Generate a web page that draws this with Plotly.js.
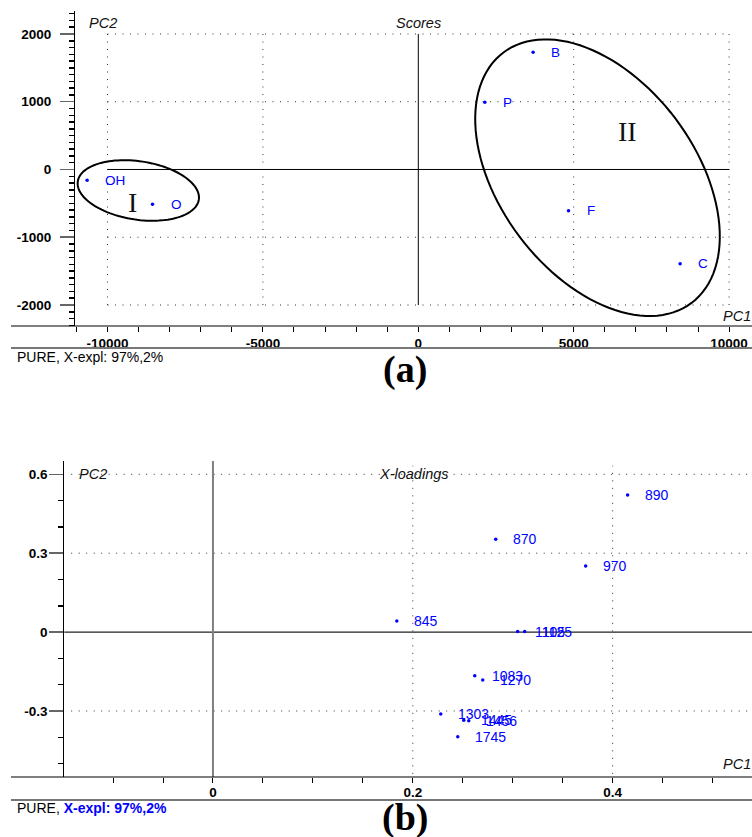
<!DOCTYPE html>
<html><head><meta charset="utf-8">
<script src="https://cdn.plot.ly/plotly-3.0.1.min.js"></script>
<style>html,body{margin:0;padding:0;background:#fff}</style>
</head><body><div id="chart" style="width:752px;height:837px"></div>
<script>
// ---- (a) Scores ----
const scoreLabels = ['OH', 'O', 'B', 'P', 'F', 'C'];
const scorePC1 = [-10656, -8552, 3694, 2140, 4833, 8424];
const scorePC2 = [-159, -514, 1730, 992, -608, -1390];
const scoreXTicks = [-10000, -5000, 0, 5000, 10000];
const scoreXTickText = ['-10000', '-5000', '0', '5000', '10000'];
const scoreYTicks = [-2000, -1000, 0, 1000, 2000];
const scoreYTickText = ['-2000', '-1000', '0', '1000', '2000'];
const groupNames = ['I', 'II'];
const groupCenterPC1 = [-9009, 5766];
const groupCenterPC2 = [-310, -121];
const groupLabelPC1 = [-9186, 6731];
const groupLabelPC2 = [-480, 558];

// ---- (b) X-loadings ----
const loadLabels = ['890', '870', '970', '845', '1105', '1125', '1083', '1270', '1303', '1445', '1456', '1745'];
const loadPC1 = [0.415, 0.283, 0.373, 0.184, 0.305, 0.312, 0.262, 0.270, 0.228, 0.251, 0.256, 0.245];
const loadPC2 = [0.521, 0.353, 0.251, 0.042, 0.002, 0.002, -0.166, -0.182, -0.311, -0.335, -0.337, -0.398];
const loadXTicks = [0, 0.2, 0.4];
const loadXTickText = ['0', '0.2', '0.4'];
const loadYTicks = [-0.3, 0, 0.3, 0.6];
const loadYTickText = ['-0.3', '0', '0.3', '0.6'];

// ---- layout geometry ----
const W = 752, H = 837;
const px = v => v / W;            // pixel -> paper x
const py = v => 1 - v / H;        // pixel -> paper y
const FONT = 'Liberation Sans, Arial, sans-serif';
const BLUE = '#0000ff';

const topX = {l: 75, r: 752}, topY = {t: 11, b: 326};
const botX = {l: 64.3, r: 752}, botY = {t: 461, b: 777};
const topXRange = [-11046, 10737], topYRange = [-2310, 2339];
const botXRange = [-0.1488, 0.5395], botYRange = [-0.551, 0.6506];

// ellipse shape parameters (center in data, axes in screen px, rotation deg)
const ellipseA = [61.2, 156.6], ellipseB = [29.2, 97.8], ellipseRot = [8.6, 53.1];

function ellipsePath(cx, cy, a, b, rotDeg) {
  const sx = (topX.r - topX.l) / (topXRange[1] - topXRange[0]);
  const sy = (topY.b - topY.t) / (topYRange[1] - topYRange[0]);
  const th = rotDeg * Math.PI / 180;
  let d = '';
  for (let i = 0; i <= 120; i++) {
    const t = 2 * Math.PI * i / 120;
    const dx = a * Math.cos(t) * Math.cos(th) - b * Math.sin(t) * Math.sin(th);
    const dy = a * Math.cos(t) * Math.sin(th) + b * Math.sin(t) * Math.cos(th);
    const x = cx + dx / sx, y = cy - dy / sy;
    d += (i === 0 ? 'M' : 'L') + x.toFixed(2) + ',' + y.toFixed(3);
  }
  return d + 'Z';
}

const traces = [
  {x: scorePC1, y: scorePC2, xaxis: 'x', yaxis: 'y', mode: 'markers', type: 'scatter',
   marker: {color: BLUE, size: 3.5}, hoverinfo: 'skip', cliponaxis: false},
  {x: loadPC1, y: loadPC2, xaxis: 'x2', yaxis: 'y2', mode: 'markers', type: 'scatter',
   marker: {color: BLUE, size: 3.5}, hoverinfo: 'skip', cliponaxis: false}
];

const dotted = {color: '#333', width: 1, dash: '1px,6.5px'};
const shapes = [];
// top grid (confined to +-10000, +-2000)
[2000, 1000, -1000, -2000].forEach(v => shapes.push({type: 'line', xref: 'x', yref: 'y', x0: -10000, x1: 10000, y0: v, y1: v, line: dotted, layer: 'below'}));
[-10000, -5000, 5000, 10000].forEach(v => shapes.push({type: 'line', xref: 'x', yref: 'y', x0: v, x1: v, y0: -2000, y1: 2000, line: dotted, layer: 'below'}));
shapes.push({type: 'line', xref: 'x', yref: 'y', x0: -10000, x1: 10000, y0: 0, y1: 0, line: {color: '#000', width: 1}, layer: 'below'});
shapes.push({type: 'line', xref: 'x', yref: 'y', x0: 0, x1: 0, y0: -2000, y1: 2000, line: {color: '#000', width: 1}, layer: 'below'});
// bottom grid (full plot)
[0.6, 0.3, -0.3].forEach(v => shapes.push({type: 'line', xref: 'x2 domain', yref: 'y2', x0: 0.01, x1: 1, y0: v, y1: v, line: dotted, layer: 'below'}));
[0.2, 0.4].forEach(v => shapes.push({type: 'line', xref: 'x2', yref: 'y2 domain', x0: v, x1: v, y0: 0.01, y1: 0.985, line: dotted, layer: 'below'}));
shapes.push({type: 'line', xref: 'x2 domain', yref: 'y2', x0: 0, x1: 1, y0: 0, y1: 0, line: {color: '#222', width: 1.2}, layer: 'below'});
shapes.push({type: 'line', xref: 'x2', yref: 'y2 domain', x0: 0, x1: 0, y0: 0, y1: 1, line: {color: '#808080', width: 2}, layer: 'below'});
// extended x axis lines and separators
[[topY.b, '#000', 1.2], [botY.b, '#000', 1.2], [348, '#777', 2], [800, '#777', 2]].forEach(s =>
  shapes.push({type: 'line', xref: 'paper', yref: 'paper', x0: px(11), x1: 1, y0: py(s[0]), y1: py(s[0]), line: {color: s[1], width: s[2]}}));
// ellipses
for (let i = 0; i < groupNames.length; i++) {
  shapes.push({type: 'path', xref: 'x', yref: 'y', path: ellipsePath(groupCenterPC1[i], groupCenterPC2[i], ellipseA[i], ellipseB[i], ellipseRot[i]),
    line: {color: '#000', width: 2}});
}

const annotations = [];
scoreLabels.forEach((t, i) => annotations.push({x: scorePC1[i], y: scorePC2[i], xref: 'x', yref: 'y', text: t, showarrow: false,
  xanchor: 'left', yanchor: 'middle', xshift: 16, font: {family: FONT, size: 13.5, color: BLUE}}));
loadLabels.forEach((t, i) => annotations.push({x: loadPC1[i], y: loadPC2[i], xref: 'x2', yref: 'y2', text: t, showarrow: false,
  xanchor: 'left', yanchor: 'middle', xshift: 15, font: {family: FONT, size: 14, color: BLUE}}));
groupNames.forEach((t, i) => annotations.push({x: groupLabelPC1[i], y: groupLabelPC2[i], xref: 'x', yref: 'y', text: t, showarrow: false,
  font: {family: 'Liberation Serif, Times New Roman, serif', size: 28, color: '#111'}}));
function txt(text, x, y, opts) {
  annotations.push(Object.assign({text, x: px(x), y: py(y), xref: 'paper', yref: 'paper', showarrow: false,
    xanchor: 'left', yanchor: 'middle', font: {family: FONT, size: 14.5, color: '#111'}}, opts || {}));
}
txt('<i>PC2</i>', 87, 23);
txt('<i>Scores</i>', 394, 23);
txt('<i>PC1</i>', 721, 316);
txt('<i>PC2</i>', 77, 474);
txt('<i>X-loadings</i>', 377, 474);
txt('<i>PC1</i>', 721, 764);
txt('PURE, X-expl: 97%,2%', 15, 357, {font: {family: FONT, size: 14, color: '#000'}});
txt('PURE, <span style="color:#0000ff;font-weight:bold">X-expl: 97%,2%</span>', 15, 808, {font: {family: FONT, size: 14, color: '#000'}});
txt('<b>(a)</b>', 405, 369, {xanchor: 'center', font: {family: 'Liberation Serif, Times New Roman, serif', size: 38, color: '#000'}});
txt('<b>(b)</b>', 405, 817, {xanchor: 'center', font: {family: 'Liberation Serif, Times New Roman, serif', size: 38, color: '#000'}});

const tickFont = {family: FONT, size: 13.5, color: '#000', weight: 'bold'};
const layout = {
  width: W, height: H, margin: {l: 0, r: 0, t: 0, b: 0},
  paper_bgcolor: '#fff', plot_bgcolor: '#fff', showlegend: false,
  xaxis: {domain: [px(topX.l), 1], range: topXRange, anchor: 'y', showgrid: false, zeroline: false, showline: false,
    tickmode: 'array', tickvals: scoreXTicks, ticktext: scoreXTickText, ticks: 'outside', ticklen: 5, tickcolor: '#000', tickwidth: 1,
    minor: {tickmode: 'linear', tick0: 0, dtick: 1000, ticks: 'outside', ticklen: 5, tickcolor: '#000', showgrid: false},
    tickfont: tickFont, ticklabelstandoff: 0, fixedrange: true},
  yaxis: {domain: [py(topY.b), py(topY.t)], range: topYRange, anchor: 'x', showgrid: false, zeroline: false, showline: true, linecolor: '#000', linewidth: 1,
    tickmode: 'array', tickvals: scoreYTicks, ticktext: scoreYTickText, ticks: 'outside', ticklen: 14, tickcolor: '#666', tickwidth: 1.5,
    minor: {tickmode: 'linear', tick0: 0, dtick: 100, ticks: 'outside', ticklen: 5, tickcolor: '#000', showgrid: false},
    tickfont: tickFont, ticklabelstandoff: 6, fixedrange: true},
  xaxis2: {domain: [px(botX.l), 1], range: botXRange, anchor: 'y2', showgrid: false, zeroline: false, showline: false,
    tickmode: 'array', tickvals: loadXTicks, ticktext: loadXTickText, ticks: 'outside', ticklen: 5, tickcolor: '#000', tickwidth: 1,
    minor: {tickmode: 'linear', tick0: 0, dtick: 0.05, ticks: 'outside', ticklen: 5, tickcolor: '#000', showgrid: false},
    tickfont: tickFont, ticklabelstandoff: -2, fixedrange: true},
  yaxis2: {domain: [py(botY.b), py(botY.t)], range: botYRange, anchor: 'x2', showgrid: false, zeroline: false, showline: true, linecolor: '#000', linewidth: 1,
    tickmode: 'array', tickvals: loadYTicks, ticktext: loadYTickText, ticks: 'outside', ticklen: 14, tickcolor: '#666', tickwidth: 1.5,
    minor: {tickmode: 'linear', tick0: 0, dtick: 0.1, ticks: 'outside', ticklen: 5, tickcolor: '#000', showgrid: false},
    tickfont: tickFont, ticklabelstandoff: -1, fixedrange: true},
  shapes, annotations
};
Plotly.newPlot('chart', traces, layout, {staticPlot: true, displayModeBar: false});
</script></body></html>
